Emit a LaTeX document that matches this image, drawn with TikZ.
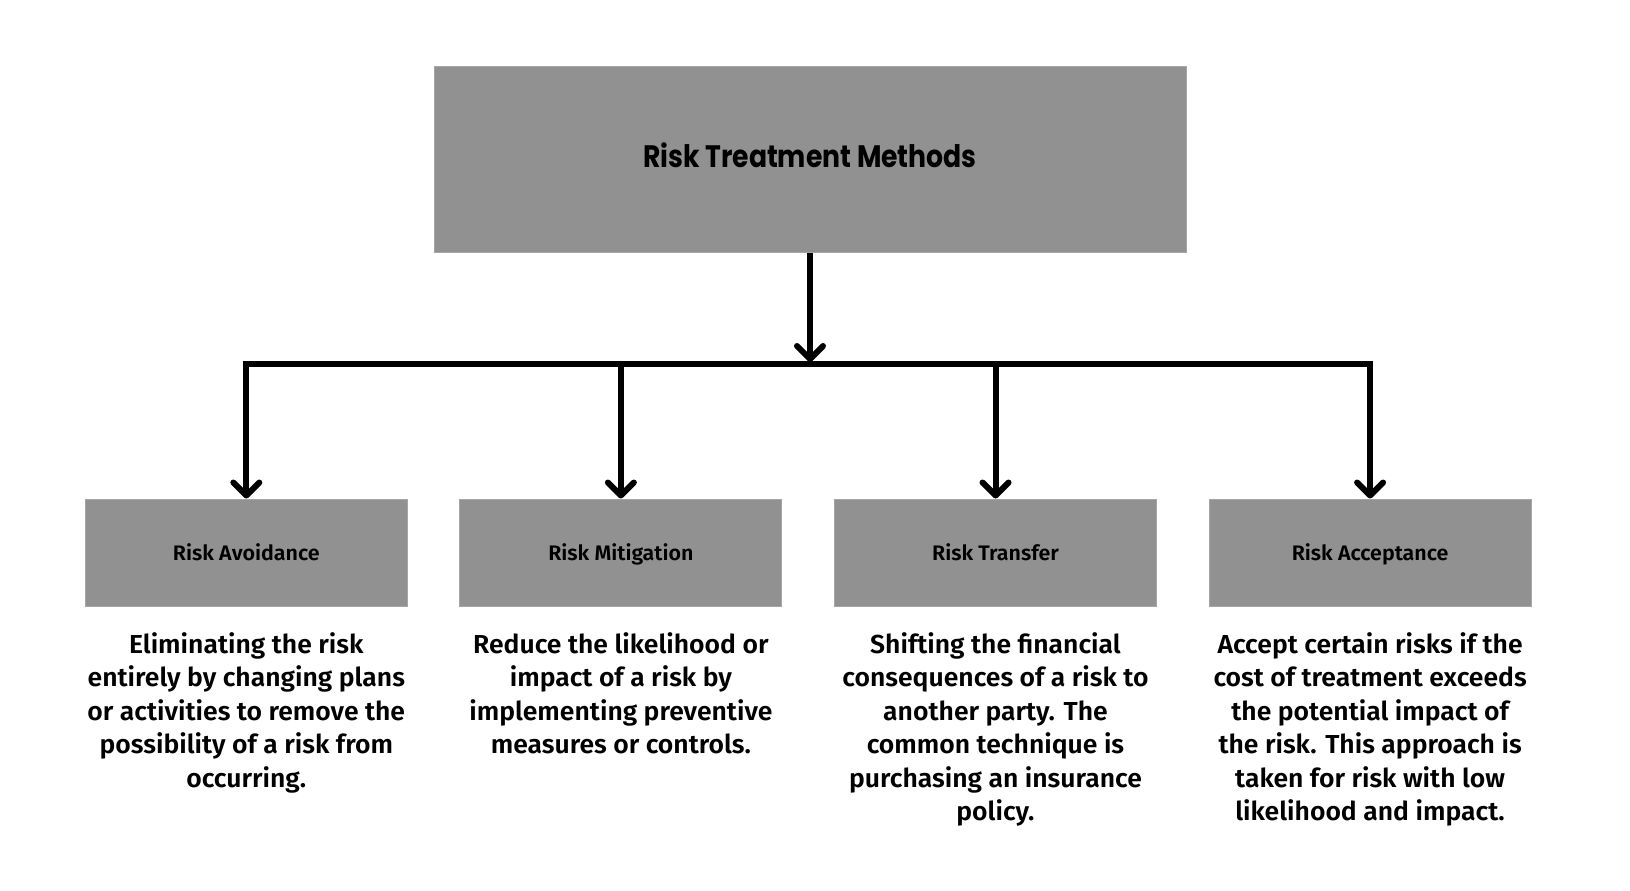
\documentclass[tikz,border=0pt]{standalone}
\usepackage{fontspec}
\setmainfont{Fira Sans}
\newfontfamily\descfont{Fira Sans SemiBold}[FakeStretch=1.02]
\newfontfamily\labfont{Fira Sans SemiBold}[FakeStretch=1.02]
\newfontfamily\titlefont{Poppins Bold}[FakeStretch=0.86]
\usetikzlibrary{arrows.meta}
\definecolor{boxgray}{HTML}{919191}
\definecolor{boxedge}{HTML}{A6A6A6}
\begin{document}
\begin{tikzpicture}[x=1pt,y=-1pt,
  box/.style={fill=boxgray, draw=boxedge, line width=1pt, inner sep=0pt,
    minimum width=322pt, minimum height=107pt, text height=17pt, text depth=2pt,
    font=\labfont\fontsize{21}{24}\selectfont},
  desc/.style={anchor=north, align=center, inner sep=0pt,
    font=\descfont\fontsize{26}{33.5}\selectfont},
  conn/.style={line width=6pt, black},
  arr/.style={conn, -{Straight Barb[length=13pt,width=26pt,round]}}]
\useasboundingbox (0,0) rectangle (1630,891);
\node[box, minimum width=752pt, minimum height=186pt, text height=22pt, text depth=7pt,
  font=\titlefont\fontsize{31}{36}\selectfont] (top) at (810,159.6) {Risk Treatment Methods};
\node[box] (b1) at (246.3,552.5) {Risk Avoidance};
\node[box] (b2) at (620.9,552.5) {Risk Mitigation};
\node[box] (b3) at (995.5,552.5) {Risk Transfer};
\node[box] (b4) at (1370.1,552.5) {Risk Acceptance};
\coordinate (hl) at (0,364);
\coordinate (ht) at (0,362);
\node[desc] (d1) at (b1.center |- 0,632) {Eliminating the risk\\entirely by changing plans\\or activities to remove the\\possibility of a risk from\\occurring.};
\node[desc] (d2) at (b2.center |- 0,632) {Reduce the likelihood or\\impact of a risk by\\implementing preventive\\measures or controls.};
\node[desc] (d3) at (b3.center |- 0,632) {Shifting the financial\\consequences of a risk to\\another party. The\\common technique is\\purchasing an insurance\\policy.};
\node[desc] (d4) at (b4.center |- 0,632) {Accept certain risks if the\\cost of treatment exceeds\\the potential impact of\\the risk. This approach is\\taken for risk with low\\likelihood and impact.};
\draw[arr] (top.south) -- (top.south |- ht);
\draw[arr] (top.south |- hl) -| (b1.north);
\draw[arr] (top.south |- hl) -| (b4.north);
\draw[arr] (b2.north |- hl) -- (b2.north);
\draw[arr] (b3.north |- hl) -- (b3.north);
\end{tikzpicture}
\end{document}
